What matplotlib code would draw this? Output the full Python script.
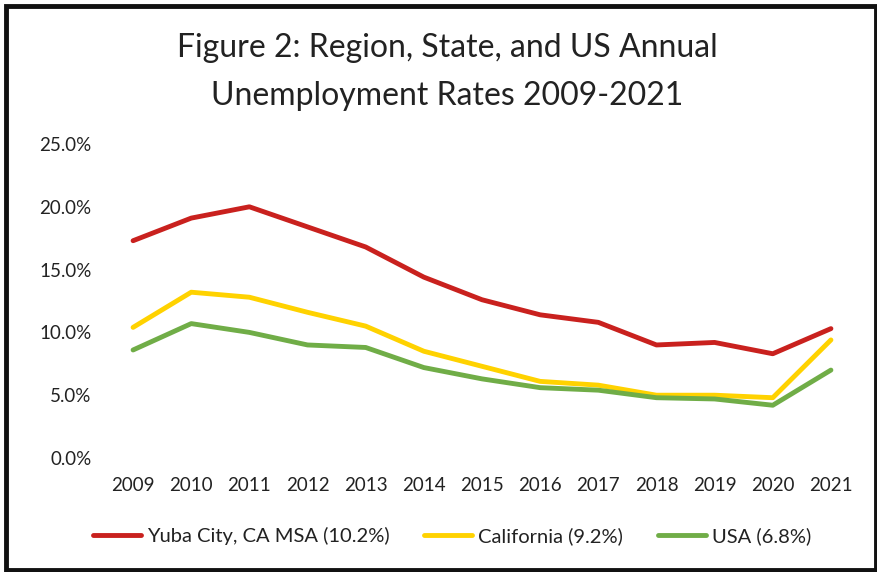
import numpy as np
import matplotlib.pyplot as plt
from matplotlib.patches import Rectangle
from matplotlib.ticker import FuncFormatter

plt.rcParams['font.family'] = ['Lato', 'DejaVu Sans']

years = [2009, 2010, 2011, 2012, 2013, 2014, 2015, 2016, 2017, 2018, 2019, 2020, 2021]
yuba = [17.3, 19.1, 20.0, 18.4, 16.8, 14.4, 12.6, 11.4, 10.8, 9.0, 9.2, 8.3, 10.3]
california = [10.4, 13.2, 12.8, 11.6, 10.5, 8.5, 7.3, 6.1, 5.8, 5.0, 5.0, 4.8, 9.4]
usa = [8.6, 10.7, 10.0, 9.0, 8.8, 7.2, 6.3, 5.6, 5.4, 4.8, 4.7, 4.2, 7.0]
labels = ['Yuba City, CA MSA (10.2%)', 'California (9.2%)', 'USA (6.8%)']
colors = ['#c9211e', '#ffd200', '#70ad47']

fig = plt.figure(figsize=(8.78, 5.72), dpi=100)
ax = fig.add_axes([104 / 878, 1 - 458 / 572, (860 - 104) / 878, (458 - 144) / 572])

x = np.arange(len(years))
for s, lab, c in zip([yuba, california, usa], labels, colors):
    ax.plot(x, s, color=c, lw=3.5, label=lab, solid_capstyle='round')

ax.set_xlim(-0.5, len(years) - 0.5)
ax.set_ylim(0, 25)
ax.set_yticks(np.arange(0, 26, 5))
ax.yaxis.set_major_formatter(FuncFormatter(lambda v, p: '%.1f%%' % v))
ax.set_xticks(x)
ax.set_xticklabels([str(y) for y in years])
ax.tick_params(length=0, labelsize=13.5, colors='#222222')
ax.tick_params(axis='x', pad=14)
ax.tick_params(axis='y', pad=9)
for sp in ax.spines.values():
    sp.set_visible(False)

fig.text(447 / 878, 1 - 48 / 572, 'Figure 2: Region, State, and US Annual', ha='center', va='center',
         fontsize=23, color='#222222')
fig.text(447 / 878, 1 - 96 / 572, 'Unemployment Rates 2009-2021', ha='center', va='center',
         fontsize=23, color='#222222')

fig.legend(loc='center', bbox_to_anchor=(452 / 878, 1 - 536 / 572), ncol=3, frameon=False,
           fontsize=14.5, handlelength=2.4, handletextpad=0.3, columnspacing=1.7,
           labelcolor='#222222')

fig.patches.append(Rectangle((6 / 878, 2 / 572), 1 - 8 / 878, 1 - 8 / 572, transform=fig.transFigure,
                             fill=False, edgecolor='#111111', lw=3.5))

fig.savefig('out.png', dpi=100)
